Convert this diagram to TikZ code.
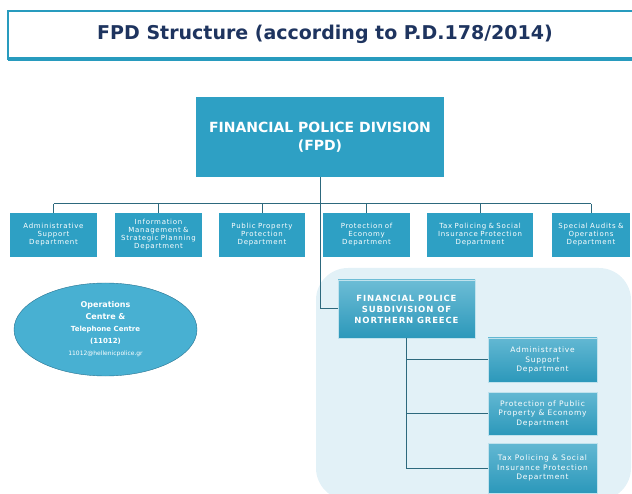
\documentclass[tikz,border=0pt]{standalone}
\usepackage{fontspec}
\setmainfont{DejaVu Sans}
\newfontfamily\spacedfont{DejaVu Sans}[LetterSpace=10]
\usetikzlibrary{shapes.geometric}

\definecolor{fpdblue}{RGB}{46,160,196}
\definecolor{titleink}{RGB}{30,52,95}
\definecolor{frameblue}{RGB}{40,155,190}
\definecolor{linkteal}{RGB}{45,105,125}
\definecolor{zoneblue}{RGB}{226,241,247}
\definecolor{ovalblue}{RGB}{72,176,210}
\definecolor{ovalrim}{RGB}{40,115,145}

\newcommand{\opsbig}{\fontsize{8}{10}\selectfont\bfseries}
\newcommand{\opsmid}{\fontsize{7}{10}\selectfont\bfseries}
\newcommand{\opssmall}{\fontsize{6}{10}\selectfont\mdseries}

\tikzset{
	dept/.style={fill=fpdblue, text=white, align=center, inner sep=1pt,
		minimum height=44pt, font=\spacedfont\fontsize{7}{8}\selectfont},
	subdept/.style={top color=fpdblue!75, bottom color=fpdblue!95!black, draw=white!70!fpdblue,
		text=white, align=center, inner sep=1pt, minimum width=109pt,
		font=\spacedfont\fontsize{7.5}{9.5}\selectfont},
	link/.style={draw=linkteal, line width=1pt}
}

\begin{document}
\begin{tikzpicture}[x=1pt,y=-1pt]
	\useasboundingbox (0,0) rectangle (632,494);

	% title banner
	\draw [frameblue, line width=1.5pt, fill=white] (8,11) rectangle (660,59);
	\draw [frameblue, line width=4pt] (8,59) -- (660,59);
	\node (title) at (325,34) [text=titleink, font=\fontsize{19}{22}\selectfont\bfseries]
		{FPD Structure (according to P.D.178/2014)};

	% northern greece zone
	\fill [zoneblue, rounded corners=32pt] (316,268) rectangle (631,500);

	% head of division
	\node (div) at (320,137) [fill=fpdblue, text=white, align=center, minimum width=248pt,
		minimum height=80pt, font=\fontsize{14}{18}\selectfont\bfseries]
		{FINANCIAL POLICE DIVISION\\(FPD)};

	% departments
	\node (dept1) at (53.5,235) [dept, minimum width=87pt, text width=84pt] {Administrative\\Support\\Department};
	\node (dept2) at (158.5,235) [dept, minimum width=87pt, text width=85pt] {Information\\Management \&\\Strategic Planning\\Department};
	\node (dept3) at (262,235) [dept, minimum width=86pt, text width=84pt] {Public Property\\Protection\\Department};
	\node (dept4) at (366.5,235) [dept, minimum width=87pt, text width=84pt] {Protection of\\Economy\\Department};
	\node (dept5) at (480,235) [dept, minimum width=106pt, text width=103pt] {Tax Policing \& Social\\Insurance Protection\\Department};
	\node (dept6) at (591,235) [dept, minimum width=78pt, text width=76pt] {Special Audits \&\\Operations\\Department};

	\coordinate (bus) at (320,204);
	\draw [link] (div) -- (bus);
	\draw [link] (dept1.north |- bus) -- (dept6.north |- bus);
	\foreach \i in {1,...,6}
		\draw [link] (dept\i.north |- bus) -- (dept\i.north);

	% operations centre
	\node (ops) at (105.5,329.5) [ellipse, draw=ovalrim, fill=ovalblue, minimum width=183pt,
		minimum height=93pt, inner sep=0pt, text=white, align=center]
		{\opsbig Operations\\\opsbig Centre \&\\\opsmid Telephone Centre\\\opsmid (11012)\\\opssmall 11012@hellenicpolice.gr};

	% subdivision of northern greece
	\node (subdiv) at (406.5,309) [top color=fpdblue!70, bottom color=fpdblue!95!black, draw=white!70!fpdblue,
		text=white, align=center, minimum width=137pt, minimum height=58pt,
		font=\spacedfont\fontsize{8.5}{11}\selectfont\bfseries]
		{FINANCIAL POLICE\\SUBDIVISION OF\\NORTHERN GREECE};
	\draw [link] (bus) |- (subdiv.west);

	\node (sub1) at (542.5,360) [subdept, minimum height=44pt] {Administrative\\Support\\Department};
	\node (sub2) at (542.5,413.5) [subdept, minimum height=43pt] {Protection of Public\\Property \& Economy\\Department};
	\node (sub3) at (542.5,468) [subdept, minimum height=50pt] {Tax Policing \& Social\\Insurance Protection\\Department};

	\draw [link] (subdiv.south) |- (sub3.west);
	\draw [link] (subdiv.south |- sub1.west) -- (sub1.west);
	\draw [link] (subdiv.south |- sub2.west) -- (sub2.west);
\end{tikzpicture}
\end{document}
